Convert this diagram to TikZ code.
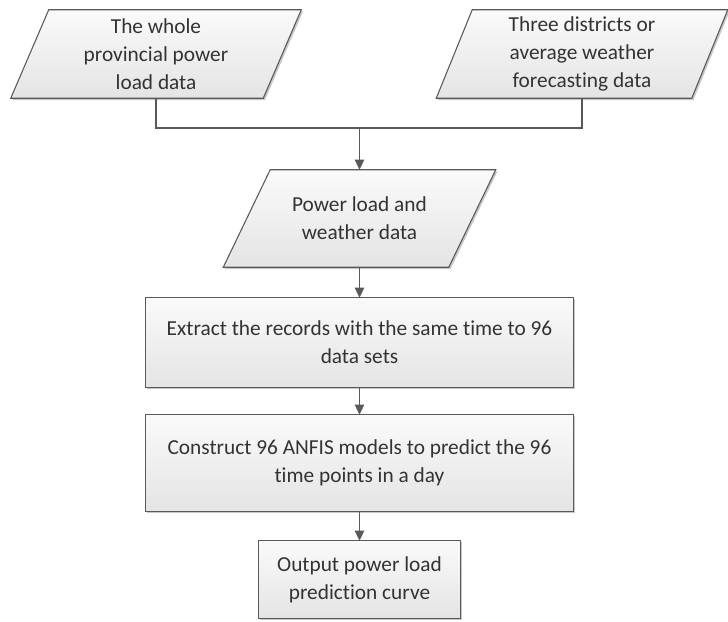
\documentclass[tikz,border=0pt]{standalone}
\usepackage{fontspec}
\setmainfont[Ligatures=NoCommon]{Carlito}
\usetikzlibrary{arrows.meta,shadows,backgrounds}
\definecolor{linec}{HTML}{595959}
\definecolor{textc}{HTML}{333333}
\definecolor{topc}{HTML}{FAFAFA}
\definecolor{botc}{HTML}{E4E4E4}
\tikzset{
  txt/.style={align=center, text=textc, inner sep=0pt,
    font=\fontsize{16pt}{21pt}\selectfont},
  boxshape/.style={draw=linec, line width=0.8pt, top color=topc, bottom color=botc,
    drop shadow={shadow xshift=1.3pt, shadow yshift=-1.3pt, fill=black, opacity=0.22}},
  conn/.style={draw=linec, line width=0.9pt},
  arr/.style={conn, -{Triangle[length=7.5pt,width=7pt]}}
}
\begin{document}
\begin{tikzpicture}[x=0.75pt,y=-0.75pt]
\useasboundingbox (0,0) rectangle (728,621);
% nodes (text + anchors)
\node[txt, minimum width=189pt, minimum height=66pt] (in1) at (156,54) {The whole\\provincial power\\load data};
\node[txt, minimum width=191.25pt, minimum height=66pt] (in2) at (582,54) {Three districts or\\average weather\\forecasting data};
\node[txt, minimum width=168.75pt, minimum height=72.75pt] (mid) at (359.5,218.5) {Power load and\\weather data};
\node[txt, minimum width=320.25pt, minimum height=66.75pt] (r1) at (359.5,342.5) {Extract the records with the same time to 96\\data sets};
\node[txt, minimum width=320.25pt, minimum height=72pt] (r2) at (359.5,463) {Construct 96 ANFIS models to predict the 96\\time points in a day};
\node[txt, minimum width=150.75pt, minimum height=57.75pt] (r3) at (359.5,579.5) {Output power load\\prediction curve};
\coordinate (j) at (359.5,128);
% shapes behind
\begin{scope}[on background layer]
\path[boxshape] ([xshift=14.25pt]in1.north west) -- ([xshift=14.25pt]in1.north east)
  -- ([xshift=-14.25pt]in1.south east) -- ([xshift=-14.25pt]in1.south west) -- cycle;
\path[boxshape] ([xshift=13.5pt]in2.north west) -- ([xshift=13.5pt]in2.north east)
  -- ([xshift=-13.5pt]in2.south east) -- ([xshift=-13.5pt]in2.south west) -- cycle;
\path[boxshape] ([xshift=17.6pt]mid.north west) -- ([xshift=17.6pt]mid.north east)
  -- ([xshift=-17.6pt]mid.south east) -- ([xshift=-17.6pt]mid.south west) -- cycle;
\path[boxshape] (r1.north west) rectangle (r1.south east);
\path[boxshape] (r2.north west) rectangle (r2.south east);
\path[boxshape] (r3.north west) rectangle (r3.south east);
\end{scope}
% connectors
\draw[conn] (in1.south) |- (j) -| (in2.south);
\draw[arr] (j) -- (mid.north);
\draw[arr] (mid.south) -- (r1.north);
\draw[arr] (r1.south) -- (r2.north);
\draw[arr] (r2.south) -- (r3.north);
\end{tikzpicture}
\end{document}
